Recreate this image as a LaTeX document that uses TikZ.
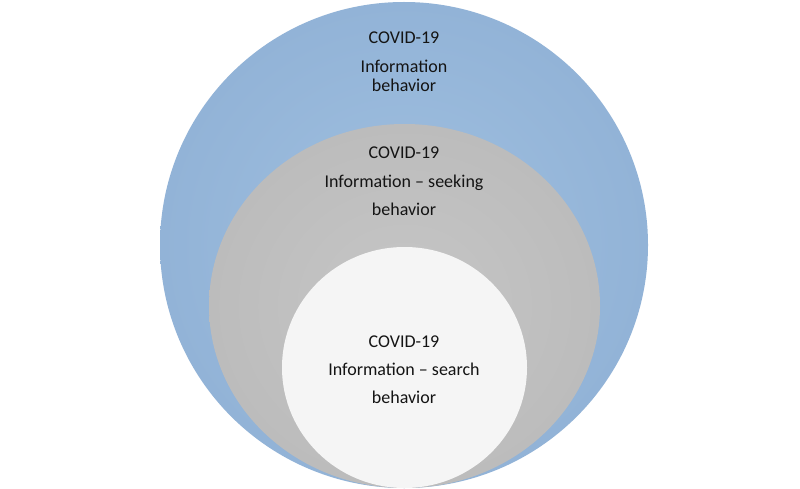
\documentclass[tikz,border=0pt]{standalone}
\usepackage{fontspec}
\setmainfont{Carlito}
\definecolor{blueL}{RGB}{160,192,224}
\definecolor{blueD}{RGB}{146,179,215}
\definecolor{greyL}{RGB}{198,198,198}
\definecolor{greyD}{RGB}{188,188,188}
\definecolor{whiteC}{RGB}{245,245,245}
\definecolor{txt}{RGB}{20,20,20}
\tikzset{
  lbl/.style={anchor=base, inner sep=0pt, text=txt, font=\fontsize{18}{21}\selectfont},
}
\begin{document}
\begin{tikzpicture}[x=1pt,y=-1pt]
\useasboundingbox (0,0) rectangle (800,489);
\fill[white] (0,0) rectangle (800,489);
% outer blue circle
\shade[inner color=blueL, outer color=blueD] (404,245) ellipse [x radius=244pt, y radius=243pt];
% middle grey ellipse
\shade[inner color=greyL, outer color=greyD] (404.5,306) ellipse [x radius=195.5pt, y radius=182pt];
% inner white circle
\fill[whiteC] (404.5,367.5) ellipse [x radius=122.5pt, y radius=120.5pt];
% texts
\node[lbl] (a1) at (404,44) {COVID-19};
\node[lbl] (a2) at (404,73) {Information};
\node[lbl] (a3) at (404,92) {behavior};
\node[lbl] (b1) at (404,159) {COVID-19};
\node[lbl] (b2) at (404,188) {Information – seeking};
\node[lbl] (b3) at (404,215) {behavior};
\node[lbl] (c1) at (404,347) {COVID-19};
\node[lbl] (c2) at (404,375) {Information – search};
\node[lbl] (c3) at (404,403) {behavior};
\end{tikzpicture}
\end{document}
